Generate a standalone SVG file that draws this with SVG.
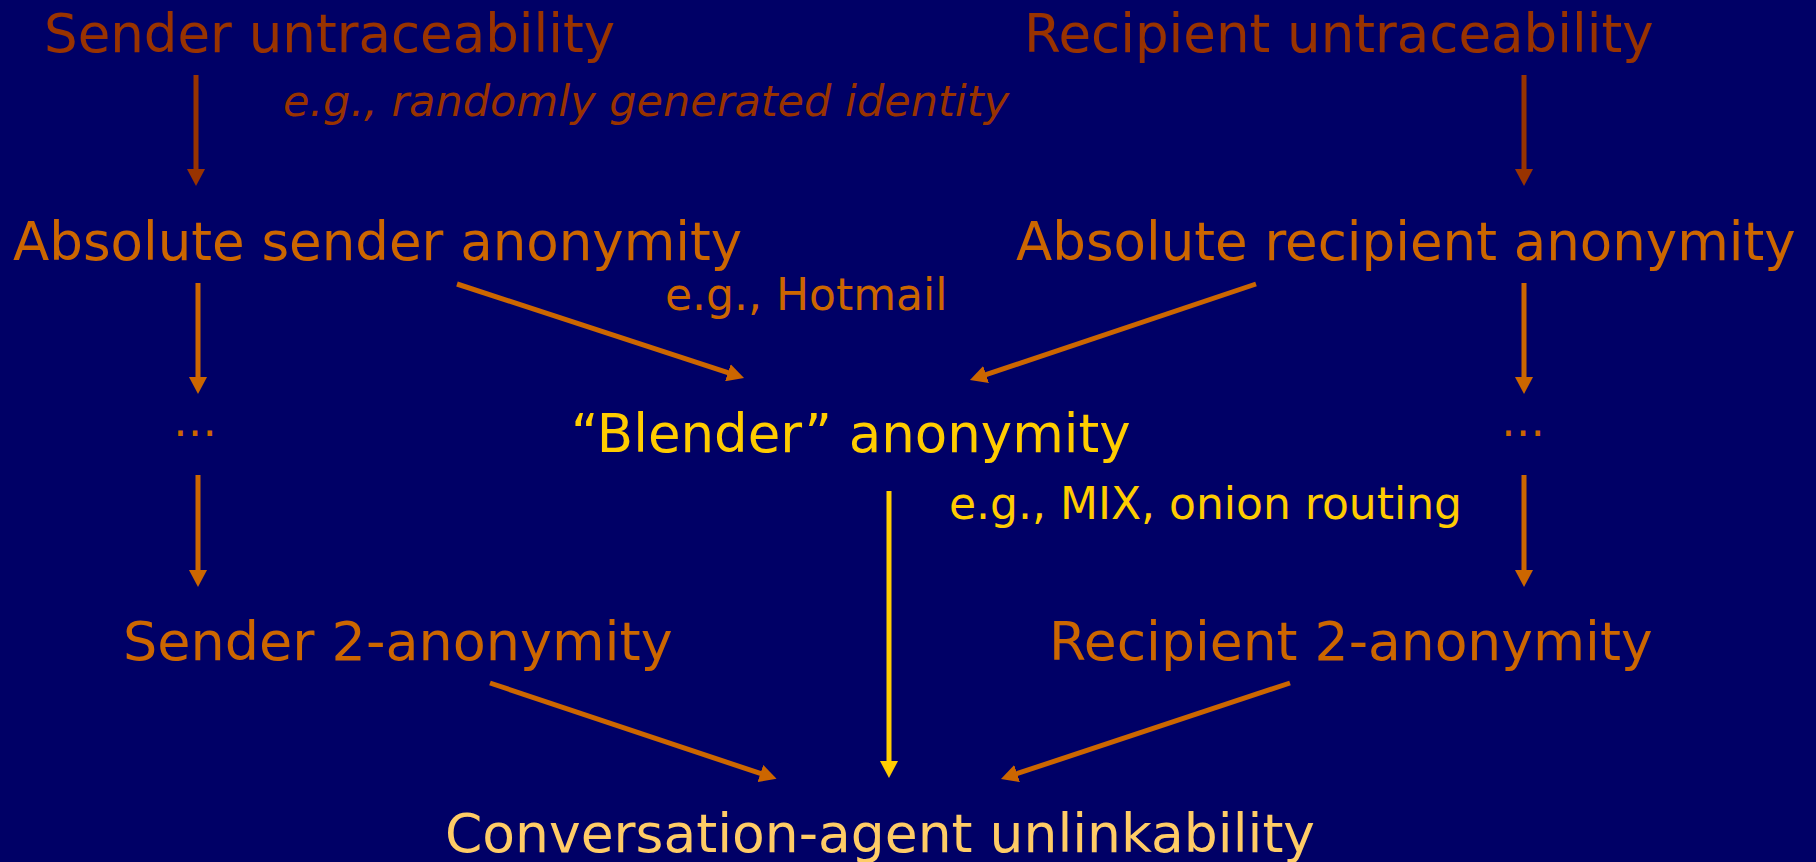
<svg xmlns="http://www.w3.org/2000/svg" width="1816" height="862" viewBox="0 0 1816 862">
<style>
text{font-family:"DejaVu Sans","Verdana",sans-serif;}
.big{font-size:53px;}
.note{font-size:44px;}
.ital{font-size:43px;font-style:italic;}
.c1{fill:#993300;}
.c2{fill:#CC6600;}
.c3{fill:#FFCC00;}
.c4{fill:#FFCC66;}
.l1{stroke:#993300;stroke-width:5;fill:none;}
.l2{stroke:#CC6600;stroke-width:5;fill:none;}
.l3{stroke:#FFCC00;stroke-width:5;fill:none;}
</style>
<defs>
<marker id="a1" viewBox="0 0 17 18" refX="8" refY="9" markerWidth="17" markerHeight="18" markerUnits="userSpaceOnUse" orient="auto"><path d="M0,0 L17,9 L0,18 z" fill="#993300"/></marker>
<marker id="a2" viewBox="0 0 17 18" refX="8" refY="9" markerWidth="17" markerHeight="18" markerUnits="userSpaceOnUse" orient="auto"><path d="M0,0 L17,9 L0,18 z" fill="#CC6600"/></marker>
<marker id="a3" viewBox="0 0 17 18" refX="8" refY="9" markerWidth="17" markerHeight="18" markerUnits="userSpaceOnUse" orient="auto"><path d="M0,0 L17,9 L0,18 z" fill="#FFCC00"/></marker>
</defs>
<rect width="1816" height="862" fill="#000066"/>
<g id="connectors">
<line class="l1" x1="196" y1="75" x2="196" y2="177" marker-end="url(#a1)"/>
<line class="l1" x1="1524" y1="75" x2="1524" y2="177" marker-end="url(#a1)"/>
<line class="l2" x1="198" y1="283" x2="198" y2="385" marker-end="url(#a2)"/>
<line class="l2" x1="1524" y1="283" x2="1524" y2="385" marker-end="url(#a2)"/>
<line class="l2" x1="198" y1="475" x2="198" y2="578" marker-end="url(#a2)"/>
<line class="l2" x1="1524" y1="475" x2="1524" y2="578" marker-end="url(#a2)"/>
<line class="l3" x1="889" y1="491" x2="889" y2="769" marker-end="url(#a3)"/>
<line class="l2" x1="457" y1="284" x2="735.5" y2="375.2" marker-end="url(#a2)"/>
<line class="l2" x1="1256" y1="284" x2="978.5" y2="377.1" marker-end="url(#a2)"/>
<line class="l2" x1="490" y1="683" x2="768" y2="776" marker-end="url(#a2)"/>
<line class="l2" x1="1290" y1="683" x2="1009.5" y2="776.1" marker-end="url(#a2)"/>
</g>
<g id="sender-untraceability"><text class="big c1" x="44" y="52">Sender untraceability</text></g>
<g id="recipient-untraceability"><text class="big c1" x="1024" y="52">Recipient untraceability</text></g>
<g id="label-random"><text class="ital c1" x="283" y="116">e.g., randomly generated identity</text></g>
<g id="absolute-sender"><text class="big c2" x="13" y="260">Absolute sender anonymity</text></g>
<g id="absolute-recipient"><text class="big c2" x="1016" y="260">Absolute recipient anonymity</text></g>
<g id="label-hotmail"><text class="note c2" x="665" y="310">e.g., Hotmail</text></g>
<g id="dots-left"><text class="note c2" x="195" y="436" text-anchor="middle">…</text></g>
<g id="dots-right"><text class="note c2" x="1523" y="436" text-anchor="middle">…</text></g>
<g id="blender"><text class="big c3" x="571" y="452">“Blender” anonymity</text></g>
<g id="label-mix"><text class="note c3" x="949" y="519">e.g., MIX, onion routing</text></g>
<g id="sender-2"><text class="big c2" x="123" y="660" style="font-size:54px">Sender 2-anonymity</text></g>
<g id="recipient-2"><text class="big c2" x="1049" y="660" style="font-size:53.5px">Recipient 2-anonymity</text></g>
<g id="conversation"><text class="big c4" x="445" y="852" style="font-size:53.5px">Conversation-agent unlinkability</text></g>
</svg>
